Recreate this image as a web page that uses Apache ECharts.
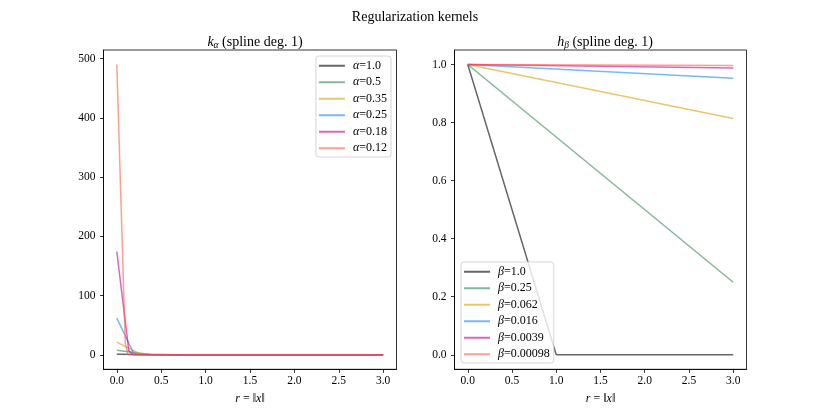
<!DOCTYPE html>
<html lang="en">
<head>
<meta charset="UTF-8">
<title>Regularization kernels</title>
<script src="https://cdn.jsdelivr.net/npm/echarts@6/dist/echarts.min.js"></script>
<style>
  html, body { margin: 0; padding: 0; background: #fff; }
  #canvas { width: 830px; height: 415px; }
</style>
</head>
<body>
<div id="canvas"></div>
<script>
// --- data ---
const xTicks = [0, 0.5, 1.0, 1.5, 2.0, 2.5, 3.0]
const kTicks = [0, 100, 200, 300, 400, 500]
const hTicks = [0, 0.2, 0.4, 0.6, 0.8, 1.0]

const alphaNames = ['1.0', '0.5', '0.35', '0.25', '0.18', '0.12']
// k_alpha curves as [r, value] knots
const kAlpha10 = [[0, 1.0], [0.76, 0.04], [1.0, 0], [3.0, 0]]
const kAlpha05 = [[0, 7.5], [0.38, 0.3], [0.5, 0], [3.0, 0]]
const kAlpha035 = [[0, 21.5], [0.27, 0.9], [0.35, 0], [3.0, 0]]
const kAlpha025 = [[0, 62], [0.19, 2.5], [0.25, 0], [3.0, 0]]
const kAlpha018 = [[0, 174], [0.135, 7], [0.18, 0], [3.0, 0]]
const kAlpha012 = [[0, 490], [0.095, 20], [0.125, 0], [3.0, 0]]

const betaNames = ['1.0', '0.25', '0.062', '0.016', '0.0039', '0.00098']
const hBeta10 = [[0, 1.0], [1.0, 0], [3.0, 0]]
const hBeta025 = [[0, 1.0], [3.0, 0.25]]
const hBeta0062 = [[0, 1.0], [3.0, 0.814]]
const hBeta0016 = [[0, 1.0], [3.0, 0.953]]
const hBeta00039 = [[0, 1.0], [3.0, 0.988]]
const hBeta000098 = [[0, 1.0], [3.0, 0.997]]

const kData = [kAlpha10, kAlpha05, kAlpha035, kAlpha025, kAlpha018, kAlpha012]
const hData = [hBeta10, hBeta025, hBeta0062, hBeta0016, hBeta00039, hBeta000098]

const colors = ['#000000', '#2a8a55', '#dc9e08', '#1e89f3', '#c60091', '#ff5f44']
const FONT = '"Liberation Serif", "DejaVu Serif", serif'

function margins(arrs) {
  let lo = Infinity, hi = -Infinity
  arrs.forEach(a => a.forEach(p => { lo = Math.min(lo, p[1]); hi = Math.max(hi, p[1]) }))
  const pad = (hi - lo) * 0.05
  return [lo - pad, hi + pad]
}
const kRange = margins(kData)
const hRange = margins(hData)

const tickLabel = { color: '#000', fontFamily: FONT, fontSize: 11.5 }
const rich = {
  i: { fontFamily: FONT, fontStyle: 'italic', fontSize: 12, color: '#000' },
  n: { fontFamily: FONT, fontSize: 12, color: '#000' }
}

function xAxis(gridIndex) {
  return {
    type: 'value', gridIndex, min: -0.15, max: 3.15,
    name: '{i|r} {n|= ‖}{i|x}{n|‖}', nameLocation: 'middle', nameGap: 24,
    nameTextStyle: { rich, fontFamily: FONT, fontSize: 12, color: '#000' },
    axisLine: { show: true, onZero: false, lineStyle: { color: '#000', width: 0.8 } },
    axisTick: { show: true, length: 3.5, customValues: xTicks, lineStyle: { color: '#000', width: 0.8 } },
    axisLabel: Object.assign({ margin: 6, customValues: xTicks, formatter: v => v.toFixed(1) }, tickLabel),
    splitLine: { show: false }
  }
}

function yAxis(gridIndex, range, ticks, fmt) {
  return {
    type: 'value', gridIndex, min: range[0], max: range[1],
    axisLine: { show: true, onZero: false, lineStyle: { color: '#000', width: 0.8 } },
    axisTick: { show: true, length: 3.5, customValues: ticks, lineStyle: { color: '#000', width: 0.8 } },
    axisLabel: Object.assign({ margin: 8, customValues: ticks, formatter: fmt }, tickLabel),
    splitLine: { show: false }
  }
}

function legend(seriesNames, pos) {
  return Object.assign({
    data: seriesNames,
    orient: 'vertical',
    icon: 'rect',
    itemWidth: 26, itemHeight: 2, itemGap: 3,
    padding: [3, 4, 2, 3],
    backgroundColor: 'rgba(255,255,255,0.8)',
    borderColor: '#cccccc', borderWidth: 0.8, borderRadius: 3,
    formatter: n => '{i|' + n.charAt(0) + '}{n|' + n.slice(1) + '}',
    textStyle: { fontFamily: FONT, fontSize: 12, lineHeight: 13.5, color: '#000', padding: [0, 0, 0, 3], rich: {
      i: { fontFamily: FONT, fontStyle: 'italic', fontSize: 12, color: '#000' },
      n: { fontFamily: FONT, fontSize: 12, color: '#000' }
    } }
  }, pos)
}

const kNames = alphaNames.map(a => 'α=' + a)
const hNames = betaNames.map(b => 'β=' + b)

function lineSeries(name, data, i, axisIndex) {
  return {
    type: 'line', name, data,
    xAxisIndex: axisIndex, yAxisIndex: axisIndex,
    symbol: 'none', showSymbol: false,
    lineStyle: { color: colors[i], width: 1.5, opacity: 0.6 },
    itemStyle: { color: colors[i], opacity: 0.6 },
    silent: true
  }
}

const series = []
kData.forEach((d, i) => series.push(lineSeries(kNames[i], d, i, 0)))
hData.forEach((d, i) => series.push(lineSeries(hNames[i], d, i, 1)))

const subRich = {
  i: { fontFamily: FONT, fontStyle: 'italic', fontSize: 14, color: '#000' },
  s: { fontFamily: FONT, fontStyle: 'italic', fontSize: 9.5, color: '#000', verticalAlign: 'bottom', padding: [6, 0, 0, 0] },
  n: { fontFamily: FONT, fontSize: 14, color: '#000' }
}

const option = {
  animation: false,
  title: [
    { text: 'Regularization kernels', left: 'center', top: 5,
      textStyle: { fontFamily: FONT, fontSize: 14, fontWeight: 'normal', color: '#000' } },
    { text: '{i|k}{s|α}{n| (spline deg. 1)}', left: 250, top: 29, textAlign: 'center',
      textStyle: { rich: subRich, fontFamily: FONT, fontSize: 14, fontWeight: 'normal' } },
    { text: '{i|h}{s|β}{n| (spline deg. 1)}', left: 600, top: 29, textAlign: 'center',
      textStyle: { rich: subRich, fontFamily: FONT, fontSize: 14, fontWeight: 'normal' } }
  ],
  grid: [
    { left: 103.5, top: 50, width: 293, height: 319.3, show: true, borderColor: '#000', borderWidth: 0.8, backgroundColor: 'transparent' },
    { left: 454.5, top: 50, width: 292, height: 319.3, show: true, borderColor: '#000', borderWidth: 0.8, backgroundColor: 'transparent' }
  ],
  xAxis: [xAxis(0), xAxis(1)],
  yAxis: [
    yAxis(0, kRange, kTicks, v => String(v)),
    yAxis(1, hRange, hTicks, v => v.toFixed(1))
  ],
  legend: [
    legend(kNames, { right: 439, top: 56 }),
    legend(hNames, { left: 461, top: 262 })
  ],
  series
}

const chart = echarts.init(document.getElementById('canvas'), null, { renderer: 'canvas' })
chart.setOption(option)
</script>
</body>
</html>
